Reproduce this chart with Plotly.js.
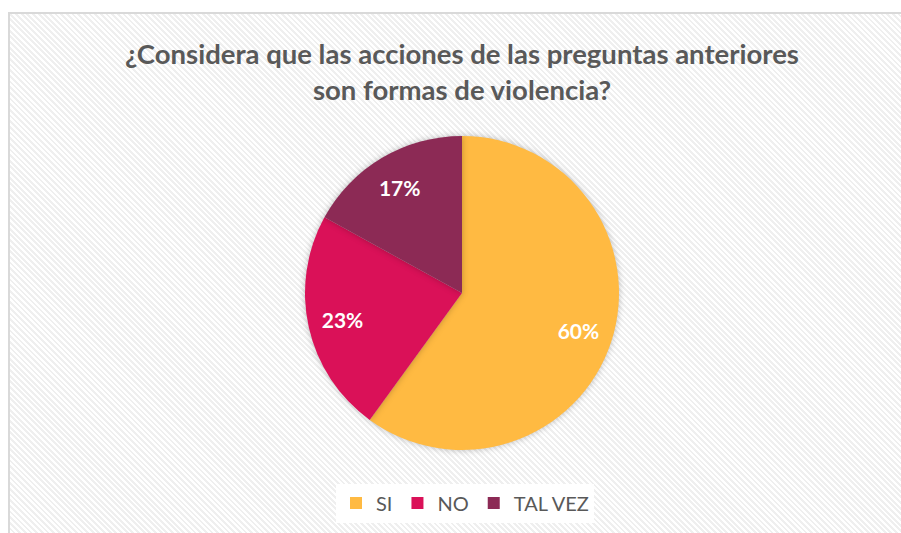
<!DOCTYPE html>
<html>
<head>
<meta charset="utf-8">
<script src="https://cdn.plot.ly/plotly-3.0.1.min.js"></script>
<style>
  html, body { margin: 0; padding: 0; background: #ffffff; }
  #frame {
    position: absolute; left: 8px; top: 12px; width: 901px; height: 530px;
    border-left: 2px solid #d9d9d9; border-top: 2px solid #d9d9d9;
    background: repeating-linear-gradient(45deg, #ffffff 0px, #ffffff 2px, #efefef 2px, #efefef 4px);
  }
  #chart { position: absolute; left: 0; top: 0; width: 901px; height: 533px; }
  .pielayer .trace:first-child .slice path { filter: drop-shadow(0px 0px 3px rgba(0,0,0,0.25)); }
</style>
</head>
<body>
<div id="frame"></div>
<div id="chart"></div>
<script>
const categories = ["SI", "NO", "TAL VEZ"];
const values = [60, 23, 17];
const colors = ["#FFBA42", "#DA1158", "#8C2A55"];
const titleText = "¿Considera que las acciones de las preguntas anteriores<br>son formas de violencia?";

const W = 901, H = 533;
const cx = 462, cy = 293, R = 157;
const dom = {
  x: [(cx - R) / W, (cx + R) / W],
  y: [1 - (cy + R) / H, 1 - (cy - R) / H]
};

const data = [{
  type: "pie",
  labels: categories,
  values: values,
  sort: false,
  direction: "clockwise",
  rotation: 0,
  marker: { colors: colors, line: { width: 0 } },
  textinfo: "none",
  hoverinfo: "label+percent",
  domain: dom
}, {
  type: "pie",
  labels: categories,
  values: values,
  sort: false,
  direction: "clockwise",
  rotation: 0,
  hole: 0.56,
  showlegend: false,
  marker: { colors: ["rgba(0,0,0,0)", "rgba(0,0,0,0)", "rgba(0,0,0,0)"], line: { width: 0 } },
  textinfo: "percent",
  texttemplate: "%{percent:.0%}",
  textposition: "inside",
  insidetextorientation: "horizontal",
  textfont: { family: "Lato, sans-serif", size: 21, color: "#ffffff", weight: "bold" },
  hoverinfo: "skip",
  domain: dom
}];

const layout = {
  width: W, height: H,
  margin: { l: 0, r: 0, t: 0, b: 0 },
  paper_bgcolor: "rgba(0,0,0,0)",
  plot_bgcolor: "rgba(0,0,0,0)",
  title: {
    text: titleText,
    font: { family: "Lato, sans-serif", size: 27.5, color: "#595959", weight: "bold" },
    x: 462 / W, xanchor: "center",
    xref: "paper",
    y: 1 - 64 / H, yanchor: "top", yref: "container"
  },
  showlegend: true,
  legend: {
    orientation: "h",
    x: 465 / W, xanchor: "center",
    y: 1 - 503 / H, yanchor: "middle",
    bgcolor: "#ffffff",
    font: { family: "Lato, sans-serif", size: 20, color: "#595959" },
    itemclick: false
  }
};

Plotly.newPlot("chart", data, layout, { displayModeBar: false, staticPlot: true });
</script>
</body>
</html>
